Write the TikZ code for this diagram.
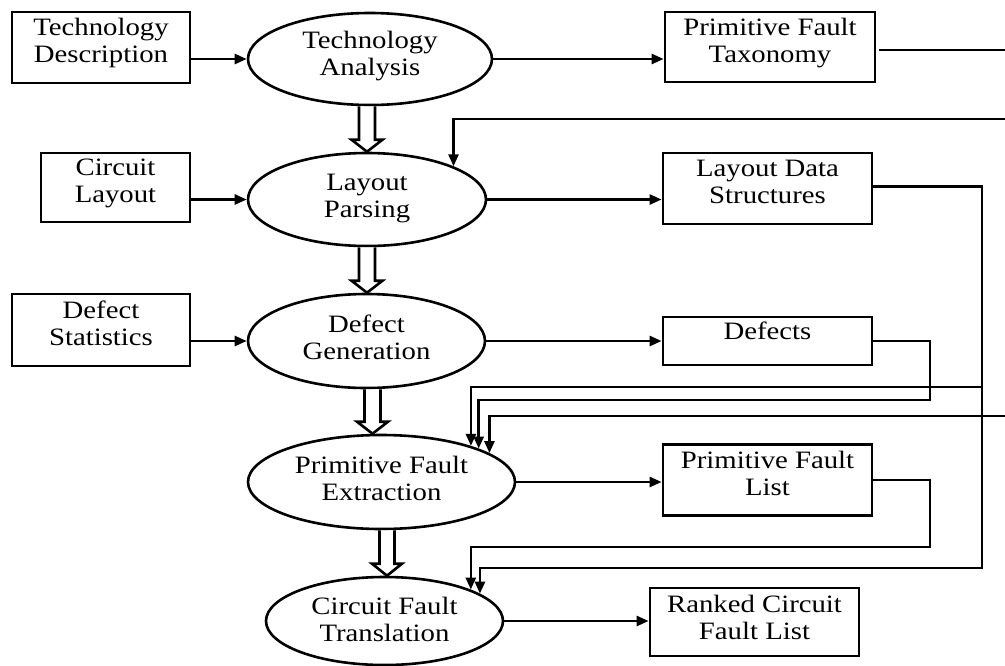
\documentclass[tikz,border=0pt]{standalone}
\usepackage{fontspec}
\setmainfont{Liberation Serif}[FakeStretch=1.15]
\usetikzlibrary{arrows.meta,shapes.geometric,calc}
% invisible depth on the last line, lifts two-line labels a little
\newcommand\tailspace[1]{\rule[-#1]{0pt}{0pt}}

\begin{document}
\begin{tikzpicture}[x=1pt,y=-1pt,
  txt/.style={font=\fontsize{25}{27}\selectfont,align=center},
  box/.style={txt,draw,line width=2.8pt,rectangle,inner sep=0pt},
  proc/.style={txt,draw,line width=2.6pt,ellipse,inner sep=0pt},
  wire/.style={line width=2.6pt},
  arr/.style={wire,-{Triangle[length=12pt,width=10pt]}},
  hollow/.style={draw,line width=2.6pt,fill=white,line join=miter}]
\useasboundingbox (0,0) rectangle (1005,665);

% input descriptions
\node[box,minimum width=178,minimum height=71] (TD) at (101,47.5) {Technology\\Description\tailspace{14pt}};
\node[box,minimum width=149,minimum height=69] (CL) at (115.5,187.5) {Circuit\\Layout\tailspace{14pt}};
\node[box,minimum width=178,minimum height=72] (DS) at (101,330) {Defect\\Statistics\tailspace{14pt}};

% processing steps
\node[proc,minimum width=244,minimum height=92] (TA) at (370,59) {Technology\\Analysis\tailspace{12pt}};
\node[proc,minimum width=238,minimum height=93] (LP) at (367,199.5) {Layout\\Parsing\tailspace{8pt}};
\node[proc,minimum width=237,minimum height=94] (DG) at (366.5,341) {Defect\\Generation\tailspace{8pt}};
\node[proc,minimum width=267,minimum height=94] (PFE) at (381.5,482) {Primitive Fault\\Extraction\tailspace{8pt}};
\node[proc,minimum width=237,minimum height=88] (CFT) at (384.5,621) {Circuit Fault\\Translation\tailspace{4pt}};

% results
\node[box,minimum width=210,minimum height=70] (PFT) at (770,47) {Primitive Fault\\Taxonomy\tailspace{14pt}};
\node[box,minimum width=209,minimum height=71] (LDS) at (767.5,188.5) {Layout Data\\Structures\tailspace{14pt}};
\node[box,minimum width=209,minimum height=48,text height=15pt,text depth=18pt] (DEF) at (767.5,341) {Defects};
\node[box,minimum width=209,minimum height=71] (PFL) at (767.5,480) {Primitive Fault\\List\tailspace{14pt}};
\node[box,minimum width=209,minimum height=68] (RCFL) at (754.5,622) {Ranked Circuit\\Fault List\tailspace{10pt}};

% routing points
\coordinate (eT) at (1005,50);
\coordinate (eL) at (1005,119);
\coordinate (eP) at (1005,416);
\coordinate (busTap) at (982,387);
\coordinate (busBot) at (982,568);
\coordinate (defTurn) at (930,400);
\coordinate (pflTurn) at (930,547);

% inputs into the steps
\draw[arr] (TA.west -| TD.east) -- (TA.west);
\draw[arr] (LP.west -| CL.east) -- (LP.west);
\draw[arr] (DG.west -| DS.east) -- (DG.west);

% step outputs
\draw[arr] (TA.east) -- (TA.east -| PFT.west);
\draw[arr] (LP.east) -- (LP.east -| LDS.west);
\draw[arr] (DG.east) -- (DG.east -| DEF.west);
\draw[arr] (PFE.east) -- (PFE.east -| PFL.west);
\draw[arr] (CFT.east) -- (CFT.east -| RCFL.west);

% feedback and data routing
\draw[wire] ($(PFT.east)+(3,3)$) -- (eT);
\draw[arr] (eL) -| (LP.21.4);
\draw[arr] ($(LDS.east)+(0,-2)$) -| (busBot) -| (CFT.16.1);
\draw[arr] (busTap) -| (PFE.22.9);
\draw[arr] (DEF.east) -| (defTurn) -| (PFE.19);
\draw[arr] (eP) -| (PFE.15.6);
\draw[arr] (PFL.east) -| (pflTurn) -| (CFT.20.5);

% hollow flow arrows between the steps
\draw[hollow] let \p1=($(TA.south)+(-3,0)$), \p2=(LP.north) in
  (\x1-8pt,\y1) -- (\x1-8pt,\y2+12pt) -- (\x1-15.5pt,\y2+12pt) -- (\x1,\y2)
  -- (\x1+15.5pt,\y2+12pt) -- (\x1+8pt,\y2+12pt) -- (\x1+8pt,\y1);
\draw[hollow] let \p1=(LP.south), \p2=(DG.north) in
  (\x1-8pt,\y1) -- (\x1-8pt,\y2+12pt) -- (\x1-15.5pt,\y2+12pt) -- (\x1,\y2)
  -- (\x1+15.5pt,\y2+12pt) -- (\x1+8pt,\y2+12pt) -- (\x1+8pt,\y1);
\draw[hollow] let \p1=($(DG.south)+(6,0)$), \p2=(PFE.north) in
  (\x1-8pt,\y1) -- (\x1-8pt,\y2+12pt) -- (\x1-15.5pt,\y2+12pt) -- (\x1,\y2)
  -- (\x1+15.5pt,\y2+12pt) -- (\x1+8pt,\y2+12pt) -- (\x1+8pt,\y1);
\draw[hollow] let \p1=($(PFE.south)+(5.5,0)$), \p2=(CFT.north) in
  (\x1-7.5pt,\y1) -- (\x1-7.5pt,\y2+12pt) -- (\x1-15pt,\y2+12pt) -- (\x1,\y2)
  -- (\x1+15pt,\y2+12pt) -- (\x1+7.5pt,\y2+12pt) -- (\x1+7.5pt,\y1);
\end{tikzpicture}
\end{document}
